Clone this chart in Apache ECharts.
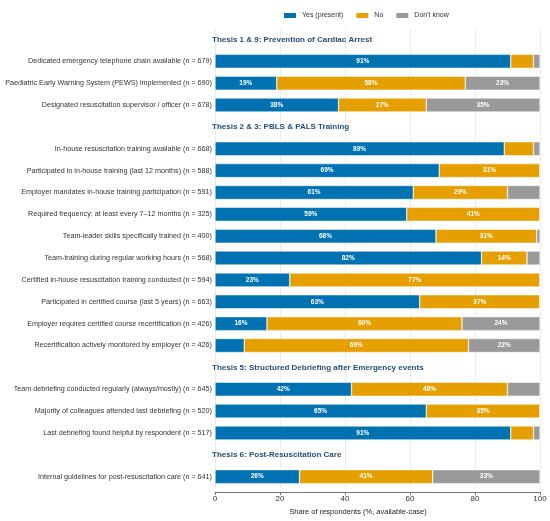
<!DOCTYPE html>
<html>
<head>
<meta charset="utf-8">
<script src="https://cdn.jsdelivr.net/npm/echarts@6/dist/echarts.min.js"></script>
<style>
html, body { margin: 0; padding: 0; background: #fff; }
#chart { width: 550px; height: 521px; }
</style>
</head>
<body>
<div id="chart"></div>
<script>
// 数据
var sectionTitles = [
    "Thesis 1 & 9: Prevention of Cardiac Arrest",
    "Thesis 2 & 3: PBLS & PALS Training",
    "Thesis 5: Structured Debriefing after Emergency events",
    "Thesis 6: Post-Resuscitation Care"
];
var itemSection = [0, 0, 0, 1, 1, 1, 1, 1, 1, 1, 1, 1, 1, 2, 2, 2, 3];
var itemLabels = [
    "Dedicated emergency telephone chain available",
    "Paediatric Early Warning System (PEWS) implemented",
    "Designated resuscitation supervisor / officer",
    "In-house resuscitation training available",
    "Participated in in-house training (last 12 months)",
    "Employer mandates in-house training participation",
    "Required frequency: at least every 7\u201312 months",
    "Team-leader skills specifically trained",
    "Team-training during regular working hours",
    "Certified in-house resuscitation training conducted",
    "Participated in certified course (last 5 years)",
    "Employer requires certified course recertification",
    "Recertification actively monitored by employer",
    "Team debriefing conducted regularly (always/mostly)",
    "Majority of colleagues attended last debriefing",
    "Last debriefing found helpful by respondent",
    "Internal guidelines for post-resuscitation care"
];
var itemN = [679, 690, 678, 668, 588, 591, 325, 400, 568, 594, 663, 426, 426, 645, 520, 517, 641];
var yesValues = [91, 19, 38, 89, 69, 61, 59, 68, 82, 23, 63, 16, 9, 42, 65, 91, 26];
var noValues  = [7, 58, 27, 9, 31, 29, 41, 31, 14, 77, 37, 60, 69, 48, 35, 7, 41];
var dkValues  = [2, 23, 35, 2, 0, 10, 0, 1, 4, 0, 0, 24, 22, 10, 0, 2, 33];
var seriesNames = ["Yes (present)", "No", "Don't know"];
var xTicks = [0, 20, 40, 60, 80, 100];

// 组装行（小节标题占一行）
var categories = [], isHeader = [], headerData = [];
var yesData = [], noData = [], dkData = [];
var lastSection = -1;
for (var i = 0; i < itemLabels.length; i++) {
    if (itemSection[i] !== lastSection) {
        lastSection = itemSection[i];
        headerData.push([0, categories.length, sectionTitles[lastSection]]);
        categories.push("__h" + lastSection);
        isHeader.push(true);
        yesData.push(null); noData.push(null); dkData.push(null);
    }
    categories.push(itemLabels[i] + " (n = " + itemN[i] + ")");
    isHeader.push(false);
    yesData.push(yesValues[i]); noData.push(noValues[i]); dkData.push(dkValues[i]);
}

var font = '"Liberation Sans", Arial, sans-serif';
var myColor = ["#0072b2", "#e69f00", "#999999"];

function barSeries(name, data, color) {
    return {
        name: name,
        type: 'bar',
        stack: 'total',
        data: data,
        barWidth: 14,
        itemStyle: { color: color, borderColor: '#ffffff', borderWidth: 0.5 },
        label: {
            show: true,
            position: 'inside',
            color: '#ffffff',
            fontSize: 6.5,
            fontWeight: 'bold',
            fontFamily: font,
            formatter: function (p) { return p.value > 10 ? p.value + '%' : ''; }
        },
        emphasis: { disabled: true }
    };
}

var myChart = echarts.init(document.getElementById('chart'));
var option = {
    animation: false,
    color: myColor,
    legend: {
        data: seriesNames,
        left: 277,
        top: 6,
        icon: 'rect',
        itemWidth: 14,
        itemHeight: 7,
        itemGap: 11,
        textStyle: { fontSize: 7, color: '#333', fontFamily: font }
    },
    grid: { left: 215, right: 10, top: 28.5, bottom: 32.5, containLabel: false },
    xAxis: {
        type: 'value',
        min: xTicks[0],
        max: xTicks[xTicks.length - 1],
        interval: xTicks[1] - xTicks[0],
        offset: 4.5,
        name: 'Share of respondents (%, available-case)',
        nameLocation: 'middle',
        nameGap: 15,
        nameTextStyle: { fontSize: 7.5, color: '#222', fontFamily: font, padding: [0, 39, 0, 0] },
        axisLine: { show: true, lineStyle: { color: '#777', width: 1 } },
        axisTick: { show: true, length: 3, lineStyle: { color: '#777' } },
        axisLabel: { fontSize: 8, color: '#333', margin: 3, fontFamily: font },
        splitLine: { show: true, lineStyle: { color: '#ebebeb', width: 1 } }
    },
    yAxis: {
        type: 'category',
        data: categories,
        inverse: true,
        axisLine: { show: false },
        axisTick: { show: false },
        axisLabel: {
            fontSize: 7.2,
            color: '#333',
            margin: 3,
            fontFamily: font,
            formatter: function (v, idx) { return isHeader[idx] ? '' : v; }
        }
    },
    series: [
        barSeries(seriesNames[0], yesData, myColor[0]),
        barSeries(seriesNames[1], noData, myColor[1]),
        barSeries(seriesNames[2], dkData, myColor[2]),
        {
            name: 'headers',
            type: 'custom',
            silent: true,
            z: 10,
            data: headerData.map(function (d) { return [d[0], d[1]]; }),
            encode: { x: 0, y: 1 },
            renderItem: function (params, api) {
                var p = api.coord([api.value(0), api.value(1)]);
                return {
                    type: 'text',
                    x: p[0] - 3,
                    y: p[1],
                    style: {
                        text: headerData[params.dataIndex][2],
                        fill: '#1f4e79',
                        font: 'bold 8px ' + font,
                        textAlign: 'left',
                        textVerticalAlign: 'middle'
                    }
                };
            }
        }
    ]
};
myChart.setOption(option);
window.addEventListener('resize', function () {
    myChart.resize();
});
</script>
</body>
</html>
